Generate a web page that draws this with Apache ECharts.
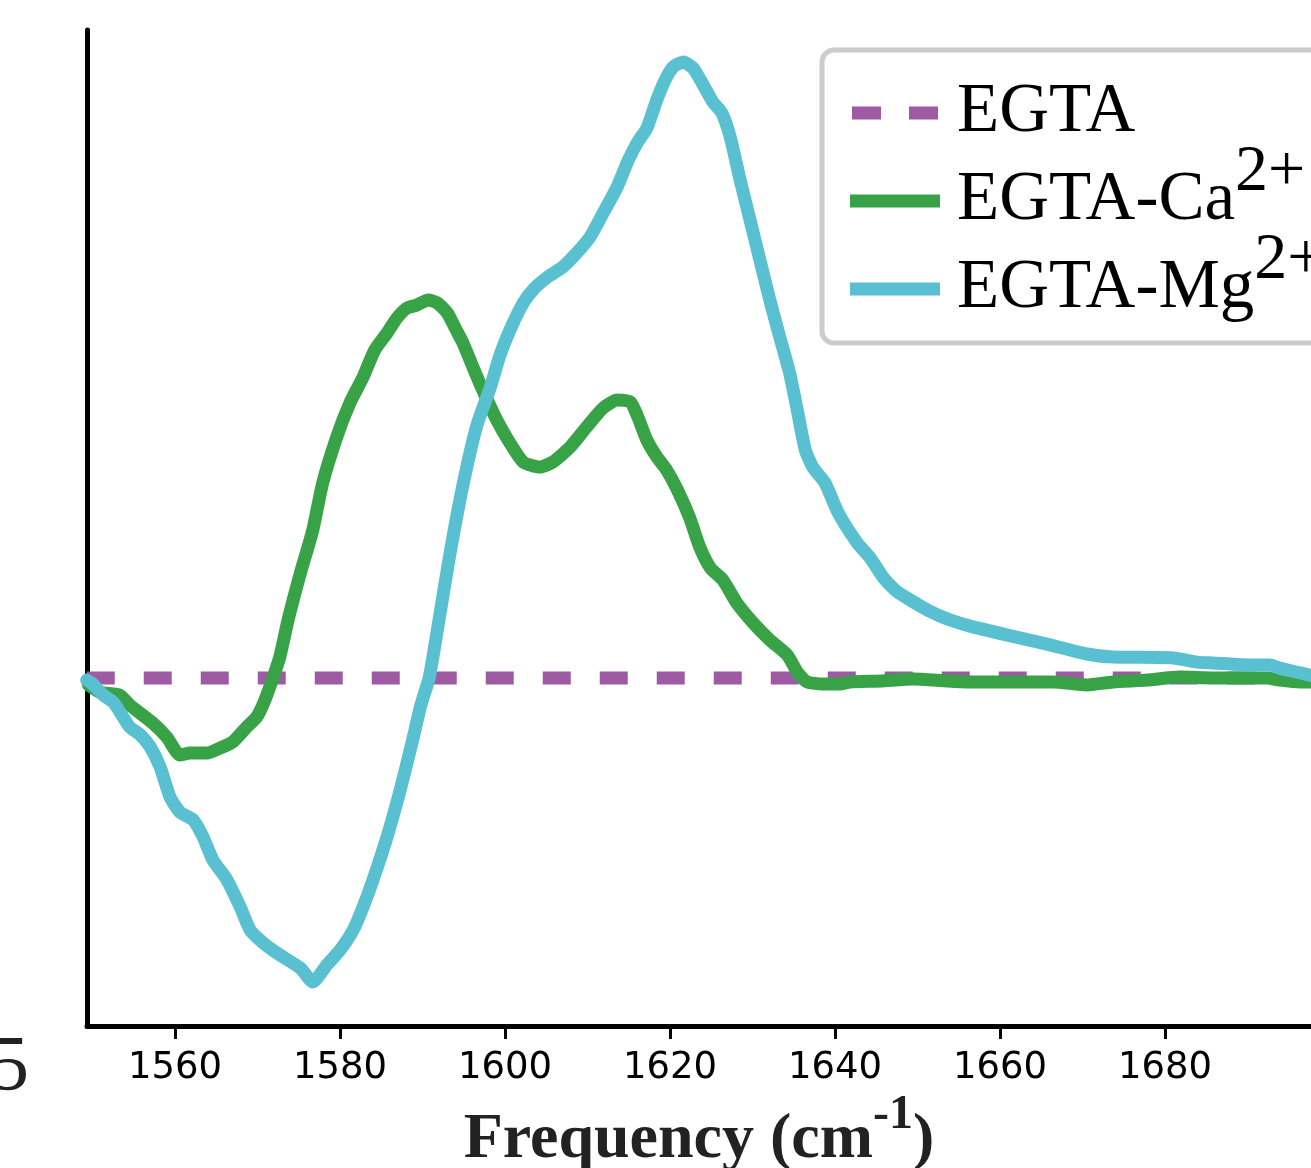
<!DOCTYPE html>
<html>
<head>
    <meta charset="utf-8">
    <title>EGTA difference spectra</title>
    <script src="https://cdn.jsdelivr.net/npm/echarts@6/dist/echarts.min.js"></script>
    <style>
        html, body { margin: 0; padding: 0; background: #fff; }
        #chart { width: 1311px; height: 1168px; }
    </style>
</head>
<body>
    <div id="chart"></div>
    <script>
        // series names as shown in the legend
        var names = ['EGTA', 'EGTA-Ca2+', 'EGTA-Mg2+'];
        var tickValues = [1560, 1580, 1600, 1620, 1640, 1660, 1680];

        // EGTA reference (flat)
        var egtaFreq = [1549.3, 1699];
        var egtaVal = [0, 0];

        // EGTA-Ca2+
        var caFreq = [1549.5, 1550.9, 1553.3, 1554.5, 1557.3, 1559.0, 1560.6, 1561.8, 1563.9, 1565.5,
            1567.0, 1568.7, 1569.9, 1570.9, 1571.9, 1572.7, 1573.7, 1575.2, 1576.7, 1577.9,
            1579.6, 1581.2, 1582.8, 1584.2, 1585.7, 1586.9, 1588.1, 1589.3, 1590.7, 1591.8,
            1593.0, 1593.9, 1594.9, 1596.1, 1597.3, 1599.0, 1600.6, 1602.2, 1604.2, 1605.8,
            1607.9, 1609.9, 1611.9, 1613.6, 1615.2, 1616.1, 1617.2, 1618.4, 1619.6, 1620.9,
            1622.4, 1623.6, 1624.9, 1626.4, 1628.1, 1630.1, 1632.1, 1634.2, 1635.5, 1636.6,
            1638.5, 1640.6, 1641.8, 1645.5, 1649.5, 1653.6, 1656.0, 1661.6, 1666.4, 1670.5,
            1673.7, 1677.8, 1681.8, 1685.8, 1689.9, 1692.4, 1693.9, 1696.4, 1699.0];
        var caVal = [-0.023, -0.047, -0.057, -0.090, -0.150, -0.197, -0.257, -0.250, -0.250, -0.233,
            -0.213, -0.163, -0.130, -0.073, 0.003, 0.070, 0.193, 0.350, 0.493, 0.650,
            0.803, 0.917, 1.003, 1.093, 1.150, 1.200, 1.233, 1.243, 1.260, 1.250,
            1.217, 1.170, 1.117, 1.037, 0.960, 0.860, 0.783, 0.720, 0.703, 0.720,
            0.770, 0.837, 0.900, 0.927, 0.920, 0.870, 0.793, 0.737, 0.693, 0.627,
            0.533, 0.437, 0.367, 0.327, 0.250, 0.183, 0.127, 0.077, 0.017, -0.013,
            -0.020, -0.020, -0.013, -0.010, -0.003, -0.010, -0.013, -0.013, -0.013, -0.023,
            -0.013, -0.007, 0.003, 0.000, 0.000, 0.000, -0.007, -0.013, -0.013];

        // EGTA-Mg2+
        var mgFreq = [1549.3, 1549.9, 1551.3, 1552.5, 1553.7, 1554.5, 1555.8, 1557.0, 1558.2, 1559.4,
            1560.6, 1562.2, 1563.4, 1564.6, 1566.3, 1567.9, 1569.1, 1570.7, 1572.7, 1575.2,
            1576.7, 1578.4, 1580.0, 1581.6, 1582.8, 1584.0, 1585.7, 1587.3, 1588.8, 1589.8,
            1590.8, 1591.8, 1593.3, 1594.9, 1596.6, 1598.2, 1599.4, 1600.6, 1602.2, 1603.6,
            1605.2, 1607.0, 1608.7, 1610.3, 1611.9, 1613.6, 1614.8, 1616.0, 1617.2, 1618.4,
            1619.4, 1620.4, 1621.6, 1622.8, 1623.9, 1625.2, 1626.3, 1627.3, 1628.5, 1629.7,
            1630.9, 1632.1, 1633.3, 1634.5, 1635.5, 1636.4, 1637.3, 1638.8, 1640.4, 1642.7,
            1644.2, 1645.8, 1647.3, 1648.7, 1651.2, 1653.6, 1656.4, 1660.9, 1665.7, 1670.5,
            1673.7, 1681.0, 1683.9, 1685.8, 1690.7, 1692.7, 1693.9, 1696.4, 1699.0];
        var mgVal = [-0.007, -0.017, -0.057, -0.080, -0.130, -0.163, -0.190, -0.230, -0.297, -0.397,
            -0.447, -0.473, -0.530, -0.607, -0.673, -0.763, -0.840, -0.883, -0.923, -0.967,
            -1.013, -0.957, -0.907, -0.840, -0.763, -0.673, -0.530, -0.373, -0.207, -0.090,
            0.000, 0.160, 0.410, 0.643, 0.843, 0.967, 1.077, 1.160, 1.250, 1.300,
            1.337, 1.370, 1.417, 1.470, 1.550, 1.637, 1.717, 1.783, 1.833, 1.927,
            1.993, 2.037, 2.053, 2.033, 1.983, 1.920, 1.883, 1.803, 1.660, 1.527,
            1.393, 1.260, 1.137, 1.017, 0.883, 0.760, 0.703, 0.650, 0.550, 0.450,
            0.403, 0.337, 0.293, 0.267, 0.227, 0.197, 0.173, 0.143, 0.113, 0.080,
            0.070, 0.067, 0.053, 0.050, 0.043, 0.043, 0.033, 0.017, 0.000];

        function pairs(xs, ys) {
            return xs.map(function (x, i) { return [x, ys[i]]; });
        }

        var chart = echarts.init(document.getElementById('chart'), null, { renderer: 'canvas' });

        var option = {
            animation: false,
            backgroundColor: '#fff',
            grid: { left: 87, right: 0, top: 30, bottom: 142, outerBoundsMode: 'none' },
            legend: {
                data: [
                    { name: names[0], icon: 'path://M0,0H29V13H0Z M57,0H86V13H57Z' },
                    { name: names[1], icon: 'rect' },
                    { name: names[2], icon: 'rect' }
                ],
                orient: 'vertical',
                left: 822,
                top: 50,
                itemWidth: 90,
                itemHeight: 13,
                // the raised superscripts stick out above their row, pull the rows back together
                itemGap: -17,
                padding: [19, 30, 10, 28],
                backgroundColor: '#fff',
                borderColor: '#cccccc',
                borderWidth: 5,
                borderRadius: 12,
                formatter: function (name) {
                    return name.replace('2+', '{sup|2+}');
                },
                textStyle: {
                    fontFamily: 'Liberation Serif',
                    fontSize: 69,
                    lineHeight: 88,
                    color: '#000',
                    padding: [0, 0, 0, 12],
                    rich: {
                        sup: { fontFamily: 'Liberation Serif', fontSize: 66, height: 32, lineHeight: 8, verticalAlign: 'top', color: '#000' }
                    }
                }
            },
            xAxis: {
                type: 'value',
                min: 1549.33,
                max: 1697.7,
                name: 'Frequency (cm{sup|-1})',
                nameLocation: 'middle',
                nameGap: 63,
                nameTextStyle: {
                    fontFamily: 'Liberation Serif',
                    fontWeight: 'bold',
                    fontSize: 64,
                    lineHeight: 70,
                    color: '#222',
                    rich: {
                        sup: { fontFamily: 'Liberation Serif', fontWeight: 'bold', fontSize: 48, height: 20, lineHeight: 8, verticalAlign: 'top', color: '#222' }
                    }
                },
                axisLine: { onZero: false, lineStyle: { color: '#000', width: 5 } },
                axisTick: { customValues: tickValues, length: 13, lineStyle: { color: '#000', width: 3 } },
                axisLabel: {
                    customValues: tickValues,
                    formatter: function (v) { return String(v); },
                    fontFamily: 'DejaVu Sans',
                    fontSize: 37,
                    color: '#000',
                    margin: 24
                },
                splitLine: { show: false }
            },
            yAxis: {
                type: 'value',
                min: -1.16,
                max: 2.16,
                axisLine: { show: true, onZero: false, lineStyle: { color: '#000', width: 5 } },
                axisTick: { show: false },
                axisLabel: { show: false },
                splitLine: { show: false }
            },
            graphic: [{
                type: 'text',
                left: -10,
                top: 1030,
                style: {
                    text: '5',
                    fontFamily: 'Liberation Serif',
                    fontSize: 78,
                    fill: '#222'
                }
            }],
            series: [{
                name: names[0],
                type: 'line',
                data: pairs(egtaFreq, egtaVal),
                showSymbol: false,
                symbol: 'none',
                color: '#9e5ba4',
                lineStyle: { width: 13, type: [28, 29], color: '#9e5ba4' },
                z: 2
            }, {
                name: names[1],
                type: 'line',
                data: pairs(caFreq, caVal),
                showSymbol: false,
                symbol: 'none',
                smooth: 0.2,
                color: '#38a346',
                lineStyle: { width: 13, color: '#38a346', cap: 'round', join: 'round' },
                z: 3
            }, {
                name: names[2],
                type: 'line',
                data: pairs(mgFreq, mgVal),
                showSymbol: false,
                symbol: 'none',
                smooth: 0.2,
                color: '#59c0d2',
                lineStyle: { width: 13, color: '#59c0d2', cap: 'round', join: 'round' },
                z: 4
            }]
        };

        chart.setOption(option);
    </script>
</body>
</html>
